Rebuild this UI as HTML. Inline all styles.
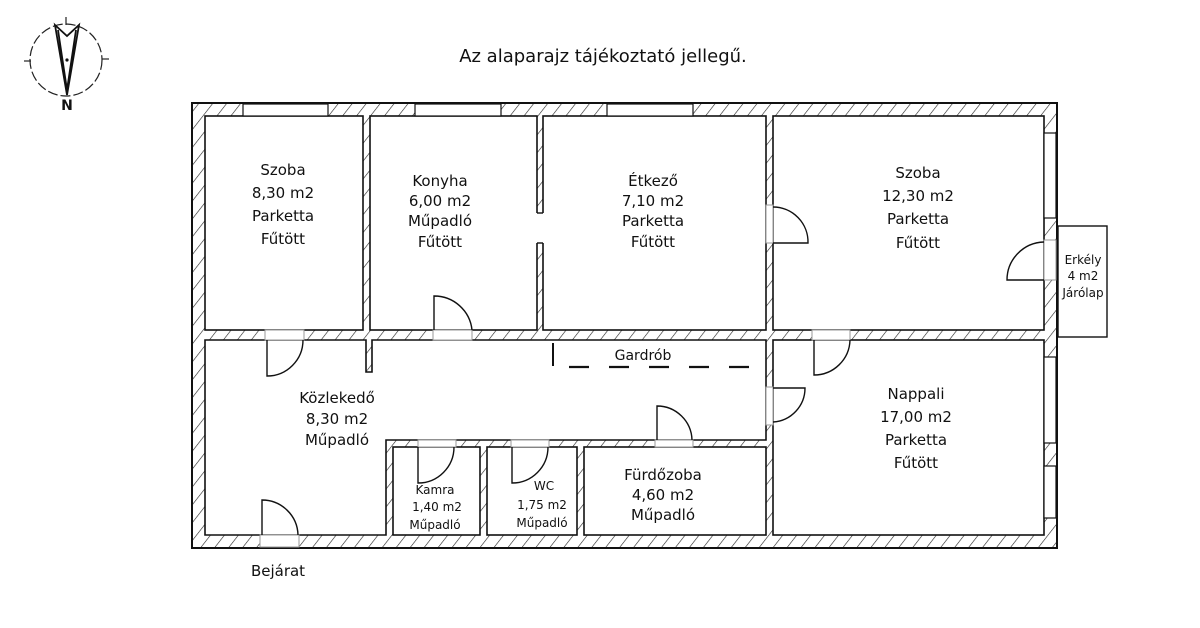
<!DOCTYPE html>
<html><head><meta charset="utf-8"><style>
html,body{margin:0;padding:0;background:#fff;}
svg{display:block;}
text{font-family:"DejaVu Sans","Liberation Sans",sans-serif;font-size:15px;fill:#111;text-anchor:middle;}
</style></head><body>
<svg width="1200" height="628" viewBox="0 0 1200 628" xmlns="http://www.w3.org/2000/svg">
<defs>
<pattern id="h" patternUnits="userSpaceOnUse" width="11" height="11" patternTransform="rotate(38)">
<rect width="11" height="11" fill="#fff"/>
<line x1="0" y1="0" x2="0" y2="11" stroke="#222" stroke-width="1.2"/>
</pattern>
</defs>
<rect width="1200" height="628" fill="#fff"/>
<!-- compass -->
<circle cx="66" cy="60" r="36" fill="none" stroke="#222" stroke-width="1.2" stroke-dasharray="10 3"/>
<line x1="66" y1="17" x2="66" y2="25" stroke="#222" stroke-width="1.2"/>
<line x1="24" y1="61" x2="31" y2="61" stroke="#222" stroke-width="1.2"/>
<line x1="102" y1="59" x2="109" y2="59" stroke="#222" stroke-width="1.2"/>
<path d="M55,25 L67,36 L79,25 L67,95 Z M58,30 L67,90 M76,30 L67,90" fill="none" stroke="#111" stroke-width="1.8"/>
<circle cx="67" cy="60" r="1.6" fill="#111"/>
<text x="67" y="110" style="font-size:14px;font-weight:bold">N</text>
<text x="603" y="62" style="font-size:18px">Az alaparajz tájékoztató jellegű.</text>

<!-- walls -->
<rect x="192" y="103" width="865" height="445" fill="url(#h)" stroke="#111" stroke-width="2"/>
<g fill="#fff" stroke="#111" stroke-width="1.6">
<rect x="205" y="116" width="158" height="214"/>
<rect x="370" y="116" width="167" height="214"/>
<rect x="543" y="116" width="223" height="214"/>
<rect x="773" y="116" width="271" height="214"/>
<path d="M205,340 H366 V372 H372 V340 H766 V440 H386 V535 H205 Z"/>
<rect x="773" y="340" width="271" height="195"/>
<rect x="393" y="447" width="87" height="88"/>
<rect x="487" y="447" width="90" height="88"/>
<rect x="584" y="447" width="182" height="88"/>
</g>
<rect x="536" y="213" width="9" height="30" fill="#fff"/>
<line x1="537" y1="213" x2="543" y2="213" stroke="#111" stroke-width="1.4"/>
<line x1="537" y1="243" x2="543" y2="243" stroke="#111" stroke-width="1.4"/>
<!-- windows -->
<g fill="#fff" stroke="#111" stroke-width="1.2">
<rect x="243" y="104" width="85" height="12"/>
<rect x="415" y="104" width="86" height="12"/>
<rect x="607" y="104" width="86" height="12"/>
<rect x="1044" y="133" width="12" height="85"/>
<rect x="1044" y="357" width="12" height="86"/>
<rect x="1044" y="466" width="12" height="52"/>
</g>
<!-- door gaps -->
<g fill="#fff" stroke="#999" stroke-width="1">
<rect x="265" y="330" width="39" height="10"/>
<rect x="433" y="330" width="39" height="10"/>
<rect x="812" y="330" width="38" height="10"/>
<rect x="766" y="205" width="7" height="38"/>
<rect x="1044" y="240" width="12" height="40"/>
<rect x="766" y="387" width="7" height="38"/>
<rect x="655" y="440" width="38" height="7"/>
<rect x="418" y="440" width="38" height="7"/>
<rect x="511" y="440" width="38" height="7"/>
<rect x="260" y="535" width="39" height="12"/>
</g>
<g fill="none" stroke="#111" stroke-width="1.4">
<path d="M267,340 V376 A36,36 0 0 0 303,340"/>
<path d="M434,330 V296 A38,38 0 0 1 472,330"/>
<path d="M773,243 H808 A35,35 0 0 0 773,207"/>
<path d="M1044,280 H1007 A38,38 0 0 1 1044,242"/>
<path d="M814,340 V375 A36,36 0 0 0 850,340"/>
<path d="M773,388 H805 A34,34 0 0 1 773,422"/>
<path d="M657,440 V406 A35,35 0 0 1 692,440"/>
<path d="M418,447 V483 A36,36 0 0 0 454,447"/>
<path d="M512,447 V483 A36,36 0 0 0 548,447"/>
<path d="M262,535 V500 A36,36 0 0 1 298,535"/>
</g>
<rect x="1058" y="226" width="49" height="111" fill="#fff" stroke="#111" stroke-width="1.4"/>
<line x1="553" y1="343" x2="553" y2="366" stroke="#111" stroke-width="2"/>
<line x1="569" y1="367" x2="766" y2="367" stroke="#111" stroke-width="2.2" stroke-dasharray="20 20"/>

<text x="283" y="175">Szoba</text><text x="283" y="198">8,30 m2</text><text x="283" y="221">Parketta</text><text x="283" y="244">Fűtött</text>
<text x="440" y="186">Konyha</text><text x="440" y="206">6,00 m2</text><text x="440" y="226">Műpadló</text><text x="440" y="247">Fűtött</text>
<text x="653" y="186">Étkező</text><text x="653" y="206">7,10 m2</text><text x="653" y="226">Parketta</text><text x="653" y="247">Fűtött</text>
<text x="918" y="178">Szoba</text><text x="918" y="201">12,30 m2</text><text x="918" y="224">Parketta</text><text x="918" y="248">Fűtött</text>
<text x="1083" y="264" style="font-size:12px">Erkély</text><text x="1083" y="280" style="font-size:12px">4 m2</text><text x="1083" y="297" style="font-size:12px">Járólap</text>
<text x="643" y="360" style="font-size:14px">Gardrób</text>
<text x="337" y="403">Közlekedő</text><text x="337" y="424">8,30 m2</text><text x="337" y="445">Műpadló</text>
<text x="435" y="494" style="font-size:12px">Kamra</text><text x="437" y="511" style="font-size:12px">1,40 m2</text><text x="435" y="529" style="font-size:12px">Műpadló</text>
<text x="544" y="490" style="font-size:12px">WC</text><text x="542" y="509" style="font-size:12px">1,75 m2</text><text x="542" y="527" style="font-size:12px">Műpadló</text>
<text x="663" y="480">Fürdőzoba</text><text x="663" y="500">4,60 m2</text><text x="663" y="520">Műpadló</text>
<text x="916" y="399">Nappali</text><text x="916" y="422">17,00 m2</text><text x="916" y="445">Parketta</text><text x="916" y="468">Fűtött</text>
<text x="278" y="576">Bejárat</text>
</svg>
</body></html>
